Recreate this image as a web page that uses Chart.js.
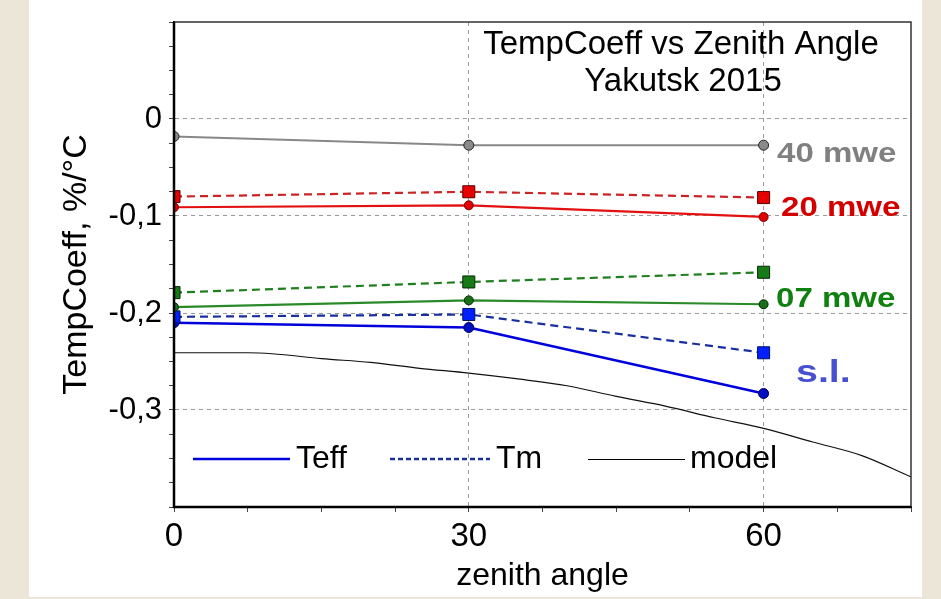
<!DOCTYPE html>
<html>
<head>
<meta charset="utf-8">
<script src="https://cdn.jsdelivr.net/npm/chart.js@4.4.1/dist/chart.umd.min.js"></script>
<style>
    html, body { margin: 0; padding: 0; background: #ece6d8; }
</style>
</head>
<body>
<canvas id="grafico" width="941" height="599"></canvas>
<script>
// Ângulos zenitais medidos
const angulos = [0, 30, 60];

// Coeficientes (%/°C)
const teff40 = [-0.018, -0.027, -0.027];
const teff20 = [-0.091, -0.089, -0.101];
const tm20 = [-0.080, -0.075, -0.081];
const teff07 = [-0.194, -0.187, -0.191];
const tm07 = [-0.179, -0.168, -0.158];
const teffSL = [-0.210, -0.215, -0.283];
const tmSL = [-0.204, -0.2015, -0.241];

// Curva do modelo
const angulosModelo = [0, 5, 7.5, 10, 15, 20, 25, 30, 35, 40, 45, 50, 55, 60, 65, 70, 75];
const modelo = [-0.241, -0.241, -0.241, -0.242, -0.247, -0.251, -0.257, -0.262, -0.268,
                -0.275, -0.286, -0.296, -0.308, -0.319, -0.333, -0.347, -0.369];

// Rótulos dos eixos
const ticksX = [0, 30, 60];
const ticksY = [0, -0.1, -0.2, -0.3];

const FONTE = '"Liberation Sans", Arial, sans-serif';

function pontos(xs, ys) {
    return xs.map((x, i) => ({ x: x, y: ys[i] }));
}

function serie(dados, cor, opcoes) {
    return Object.assign({
        data: pontos(angulos, dados),
        borderColor: cor,
        backgroundColor: cor,
        borderWidth: 2.2,
        pointBorderWidth: 1,
        pointBorderColor: '#222',
        clip: 0
    }, opcoes);
}

const ehRotuloY = v => ticksY.some(t => Math.abs(t - v) < 1e-6);

// Texto em negrito levemente alargado, como no original
function textoLargo(ctx, texto, x, y, esticar) {
    ctx.save();
    ctx.translate(x, y);
    ctx.scale(esticar, 1);
    ctx.fillText(texto, 0, 0);
    ctx.restore();
}

// Fundo bege com a área branca do gráfico
const fundo = {
    id: 'fundo',
    beforeDraw(chart) {
        const ctx = chart.ctx;
        ctx.save();
        ctx.fillStyle = '#ece6d8';
        ctx.fillRect(0, 0, chart.width, chart.height);
        ctx.fillStyle = '#ffffff';
        ctx.fillRect(29, 0, 893, 597);
        ctx.restore();
    }
};

// Moldura, títulos, nomes das séries e legenda
const textos = {
    id: 'textos',
    afterDatasetsDraw(chart) {
        const ctx = chart.ctx;
        const a = chart.chartArea;
        ctx.save();

        // moldura
        ctx.strokeStyle = '#333';
        ctx.lineWidth = 1.5;
        ctx.beginPath();
        ctx.moveTo(a.left, a.top);
        ctx.lineTo(a.right, a.top);
        ctx.lineTo(a.right, a.bottom);
        ctx.stroke();
        ctx.strokeStyle = '#000';
        ctx.lineWidth = 2.5;
        ctx.beginPath();
        ctx.moveTo(a.left, a.top);
        ctx.lineTo(a.left, a.bottom);
        ctx.lineTo(a.right, a.bottom);
        ctx.stroke();

        // título
        ctx.fillStyle = '#000';
        ctx.textAlign = 'center';
        ctx.textBaseline = 'middle';
        ctx.font = '33px ' + FONTE;
        ctx.fillText('TempCoeff vs Zenith Angle', 681, 45);
        ctx.fillText('Yakutsk 2015', 683, 82);

        // nomes das séries
        ctx.textAlign = 'left';
        ctx.font = 'bold 28px ' + FONTE;
        ctx.fillStyle = '#808080';
        textoLargo(ctx, '40 mwe', 777, 154, 1.18);
        ctx.fillStyle = '#d40000';
        textoLargo(ctx, '20 mwe', 781, 208, 1.18);
        ctx.fillStyle = '#108010';
        textoLargo(ctx, '07 mwe', 776, 299, 1.18);
        ctx.fillStyle = '#4650d0';
        ctx.font = 'bold 31px ' + FONTE;
        textoLargo(ctx, 's.l.', 796, 373, 1.27);

        // legenda
        const yl = 459;
        ctx.lineWidth = 2.5;
        ctx.strokeStyle = '#0000dd';
        ctx.beginPath(); ctx.moveTo(193, yl); ctx.lineTo(290, yl); ctx.stroke();
        ctx.strokeStyle = '#1a2ea0';
        ctx.setLineDash([5, 3]);
        ctx.beginPath(); ctx.moveTo(390, yl); ctx.lineTo(490, yl); ctx.stroke();
        ctx.setLineDash([]);
        ctx.strokeStyle = '#000';
        ctx.lineWidth = 1;
        ctx.beginPath(); ctx.moveTo(588, yl + 0.5); ctx.lineTo(685, yl + 0.5); ctx.stroke();

        ctx.fillStyle = '#000';
        ctx.font = '32px ' + FONTE;
        ctx.fillText('Teff', 296, yl);
        ctx.fillText('Tm', 496, yl);
        ctx.fillText('model', 690, yl);
        ctx.restore();
    }
};

const ctxGrafico = document.getElementById('grafico').getContext('2d');

new Chart(ctxGrafico, {
    type: 'line',
    data: {
        datasets: [
            {
                data: pontos(angulosModelo, modelo),
                borderColor: '#111',
                borderWidth: 1.2,
                pointRadius: 0,
                cubicInterpolationMode: 'monotone',
                clip: 0
            },
            serie(teff40, '#888888', { pointRadius: 5, pointBackgroundColor: '#8a8a8a', borderWidth: 2 }),
            serie(tm20, '#cc2424', { borderDash: [8, 5], pointStyle: 'rect', pointRadius: 8.5, pointBackgroundColor: '#e80000', pointBorderColor: '#5a0000' }),
            serie(teff20, '#e31010', { pointRadius: 4.5, pointBackgroundColor: '#e00000', pointBorderColor: '#800000' }),
            serie(tm07, '#1f7f1f', { borderDash: [8, 5], pointStyle: 'rect', pointRadius: 8.5, pointBackgroundColor: '#167a16', pointBorderColor: '#032a03' }),
            serie(teff07, '#2a8a2a', { pointRadius: 4.5, pointBackgroundColor: '#1a6f1a', pointBorderColor: '#032a03' }),
            serie(tmSL, '#1a2ea0', { borderDash: [8, 5], pointStyle: 'rect', pointRadius: 8.5, pointBackgroundColor: '#0020ff', pointBorderColor: '#001060' }),
            serie(teffSL, '#0000dd', { borderWidth: 2.5, pointRadius: 5, pointBackgroundColor: '#0010c0', pointBorderColor: '#000060' })
        ]
    },
    options: {
        responsive: false,
        animation: false,
        layout: { padding: { top: 22, right: 30, left: 0, bottom: 0 } },
        scales: {
            x: {
                type: 'linear',
                min: 0,
                max: 75,
                afterFit: s => { s.height = 92; s.paddingLeft = 0; s.paddingRight = 0; },
                ticks: {
                    stepSize: 7.5,
                    autoSkip: false,
                    maxRotation: 0,
                    padding: 5,
                    color: '#000',
                    font: { size: 33, family: FONTE },
                    callback: v => ticksX.includes(v) ? String(v) : ''
                },
                grid: {
                    color: c => (c.tick && (c.tick.value === 30 || c.tick.value === 60)) ? '#9a9a9a' : 'rgba(0,0,0,0)',
                    tickColor: '#444',
                    tickLength: 5,
                    lineWidth: 1
                },
                border: { color: '#000', width: 2, dash: [4, 4] },
                title: {
                    display: true,
                    text: 'zenith angle',
                    color: '#000',
                    font: { size: 32, family: FONTE },
                    padding: { top: 0, bottom: 4 }
                }
            },
            y: {
                min: -0.4,
                max: 0.1,
                afterFit: s => { s.width = 174; s.paddingTop = 0; s.paddingBottom = 0; },
                ticks: {
                    stepSize: 0.025,
                    autoSkip: false,
                    padding: 7,
                    color: '#000',
                    font: { size: 31, family: FONTE },
                    callback: v => ehRotuloY(v) ? (Math.abs(v) < 1e-6 ? '0' : v.toFixed(1).replace('.', ',')) : ''
                },
                grid: {
                    color: c => (c.tick && ehRotuloY(c.tick.value)) ? '#9a9a9a' : 'rgba(0,0,0,0)',
                    tickColor: '#444',
                    tickLength: 5,
                    lineWidth: 1
                },
                border: { color: '#000', width: 2, dash: [4, 4] },
                title: {
                    display: true,
                    text: 'TempCoeff, %/°C',
                    color: '#000',
                    font: { size: 34, family: FONTE },
                    padding: { top: 56, bottom: 0 }
                }
            }
        },
        plugins: {
            legend: { display: false },
            tooltip: { enabled: false }
        }
    },
    plugins: [fundo, textos]
});
</script>
</body>
</html>
